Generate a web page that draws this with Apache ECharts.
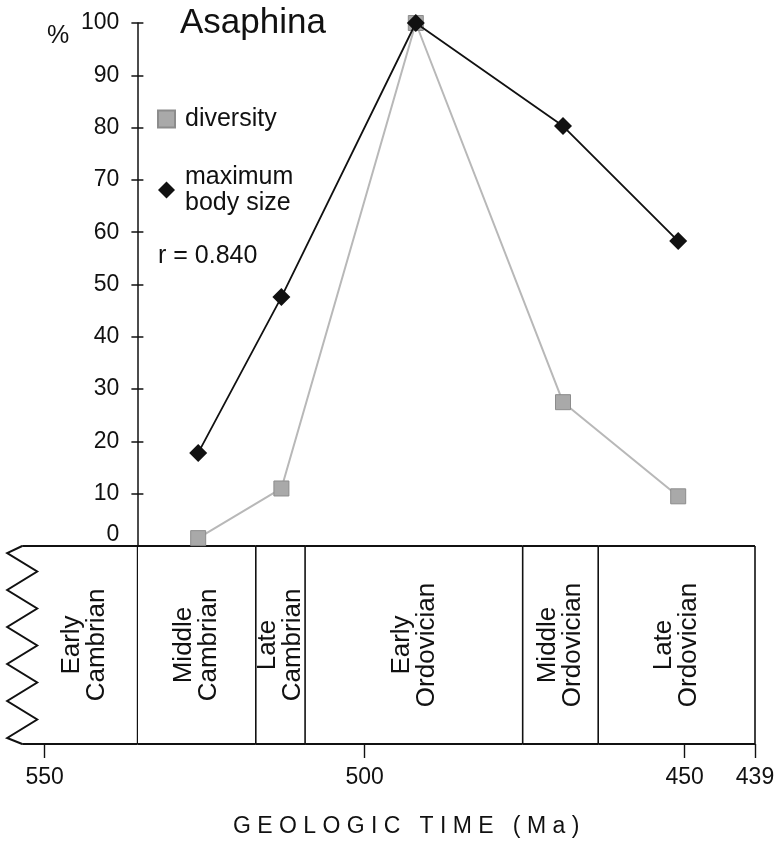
<!DOCTYPE html>
<html>
<head>
<meta charset="utf-8">
<script src="https://cdn.jsdelivr.net/npm/echarts@6/dist/echarts.min.js"></script>
<style>
  html, body { margin: 0; background: #fff; }
  #chart { width: 778px; height: 847px; }
</style>
</head>
<body>
<div id="chart"></div>
<script>
// ages (Ma) of the sampled intervals, midpoints of each stage
var sampleAges = [526, 513, 492, 469, 451];
var diversity = [1.5, 11, 100, 27.5, 9.5];
var maxBodySize = [17.8, 47.6, 100, 80.3, 58.3];

// geologic time scale (Ma)
var periodNames = ['Early\nCambrian', 'Middle\nCambrian', 'Late\nCambrian', 'Early\nOrdovician', 'Middle\nOrdovician', 'Late\nOrdovician'];
var periodStart = [553.5, 535.5, 517, 509.3, 475.3, 463.5];
var periodEnd = [535.5, 517, 509.3, 475.3, 463.5, 439];
var timeTicks = [550, 500, 450, 439];

var FONT = 'Liberation Sans, Arial, sans-serif';
var INK = '#111';

// shared horizontal scale for the plot and the time bar
var plotRight = 755;
var pxPerMa = 6.4;
var youngest = 439;
var oldestBar = 556;
var oldestPlot = periodEnd[0];
function leftFor(age) { return plotRight - (age - youngest) * pxPerMa; }

var chart = echarts.init(document.getElementById('chart'));

function renderPeriod(params, api) {
  var i = params.dataIndex;
  var a = api.coord([api.value(0), 1]);
  var b = api.coord([api.value(1), 0]);
  var x0 = a[0], x1 = b[0], top = a[1], bottom = b[1];
  var kids = [
    { type: 'line', shape: { x1: x0, y1: top, x2: x1, y2: top }, style: { stroke: INK, lineWidth: 2 } },
    { type: 'line', shape: { x1: x0, y1: bottom, x2: x1, y2: bottom }, style: { stroke: INK, lineWidth: 2 } },
    { type: 'line', shape: { x1: x1, y1: top, x2: x1, y2: bottom }, style: { stroke: INK, lineWidth: i === 0 ? 1.2 : 1.6 } }
  ];
  var cx = (x0 + x1) / 2;
  if (i === 0) {
    // broken (zigzag) edge for the truncated Early Cambrian
    var pts = [[x0, top]];
    var n = 11, step = (bottom - top - 13) / (n - 1);
    for (var k = 0; k < n; k++) {
      pts.push([x0 + (k % 2 === 0 ? -15 : 15), top + 7 + k * step]);
    }
    pts.push([x0, bottom]);
    kids.push({ type: 'polyline', shape: { points: pts }, style: { stroke: INK, lineWidth: 2, fill: null } });
    cx += 5;
  }
  kids.push({
    type: 'text', x: cx, y: (top + bottom) / 2, rotation: Math.PI / 2,
    style: { text: periodNames[i], fontSize: 26, lineHeight: 25, fontFamily: FONT, fill: INK, align: 'center', verticalAlign: 'middle' }
  });
  return { type: 'group', children: kids };
}

var option = {
  backgroundColor: '#fff',
  animation: false,
  textStyle: { fontFamily: FONT, color: INK },
  title: {
    text: 'Asaphina', left: 175, top: 1,
    textStyle: { fontSize: 35, fontWeight: 'normal', color: INK, fontFamily: FONT }
  },
  legend: {
    orient: 'vertical', left: 157, top: 106, padding: 0,
    itemWidth: 17, itemHeight: 17, itemGap: 32,
    textStyle: { fontSize: 25, lineHeight: 26, color: INK, fontFamily: FONT, padding: [0, 0, 0, 5] },
    data: [
      { name: 'diversity', icon: 'rect' },
      { name: 'maximum\nbody size', icon: 'diamond' }
    ]
  },
  graphic: [
    { type: 'text', left: 47, top: 24, style: { text: '%', fontSize: 25, fill: INK, fontFamily: FONT } },
    { type: 'text', left: 158, top: 244, style: { text: 'r = 0.840', fontSize: 25, fill: INK, fontFamily: FONT } },
    { type: 'text', left: 233, top: 815, style: { text: 'G E O L O G I C   T I M E   ( M a )', fontSize: 23, fill: INK, fontFamily: FONT } }
  ],
  grid: [
    { left: leftFor(oldestPlot), right: 778 - plotRight, top: 23, height: 523 },
    { left: leftFor(oldestBar), right: 778 - plotRight, top: 546, height: 198 }
  ],
  xAxis: [
    { gridIndex: 0, type: 'value', inverse: true, min: youngest, max: oldestPlot, show: false },
    {
      gridIndex: 1, type: 'value', inverse: true, min: youngest, max: oldestBar,
      axisLine: { show: false },
      splitLine: { show: false },
      axisTick: { show: true, customValues: timeTicks, length: 14, lineStyle: { color: INK, width: 1.4 } },
      axisLabel: { customValues: timeTicks, fontSize: 23, color: INK, margin: 22, fontFamily: FONT }
    }
  ],
  yAxis: [
    {
      gridIndex: 0, type: 'value', position: 'left', min: 0, max: 100, interval: 10,
      axisLine: { show: true, lineStyle: { color: INK, width: 1.5 } },
      axisTick: { show: true, length: 6, lineStyle: { color: INK, width: 1.5 } },
      axisLabel: { fontSize: 23, color: INK, margin: 18, fontFamily: FONT, verticalAlignMinLabel: 'bottom' },
      splitLine: { show: false }
    },
    {
      gridIndex: 0, type: 'value', position: 'left', offset: 0, min: 0, max: 100, interval: 10,
      axisLine: { show: false },
      axisTick: { show: true, inside: true, length: 6, lineStyle: { color: INK, width: 1.5 } },
      axisLabel: { show: false },
      splitLine: { show: false }
    },
    { gridIndex: 1, type: 'value', min: 0, max: 1, show: false }
  ],
  series: [
    {
      name: 'diversity', type: 'line', xAxisIndex: 0, yAxisIndex: 0,
      data: sampleAges.map(function (t, i) { return [t, diversity[i]]; }),
      symbol: 'rect', symbolSize: 15,
      lineStyle: { color: '#b8b8b8', width: 2 },
      itemStyle: { color: '#a9a9a9', borderColor: '#8c8c8c', borderWidth: 1 },
      z: 3
    },
    {
      name: 'maximum\nbody size', type: 'line', xAxisIndex: 0, yAxisIndex: 0,
      data: sampleAges.map(function (t, i) { return [t, maxBodySize[i]]; }),
      symbol: 'diamond', symbolSize: 18,
      lineStyle: { color: INK, width: 1.8 },
      itemStyle: { color: INK },
      z: 4
    },
    {
      type: 'custom', xAxisIndex: 1, yAxisIndex: 2, silent: true, clip: false,
      renderItem: renderPeriod,
      encode: { x: [0, 1] },
      data: periodStart.map(function (s, i) { return [s, periodEnd[i]]; })
    }
  ]
};

chart.setOption(option);
</script>
</body>
</html>
